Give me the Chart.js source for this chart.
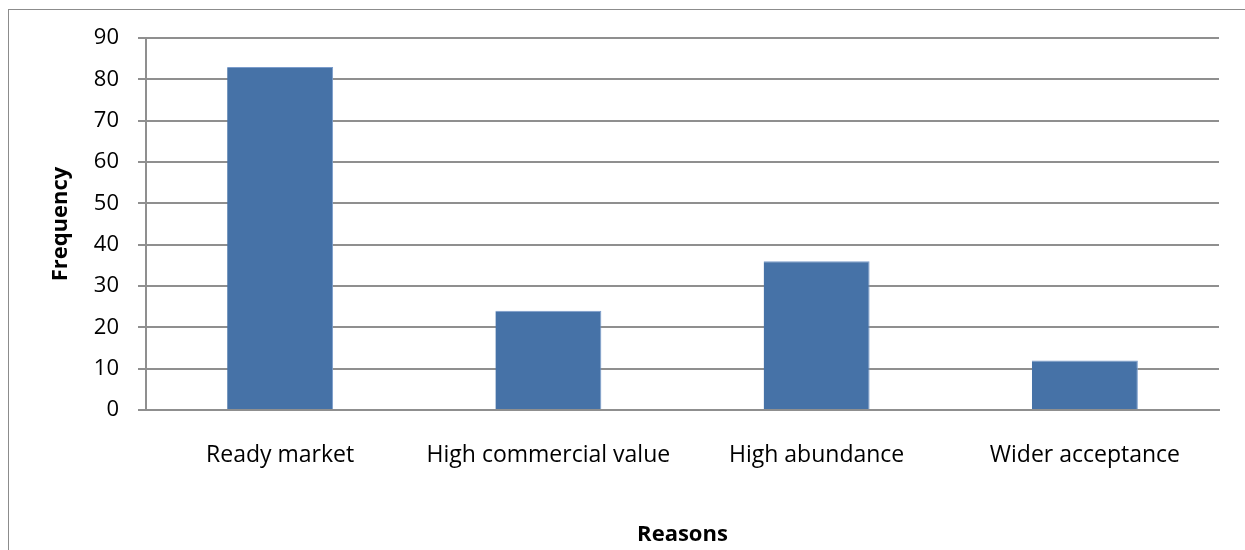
<!DOCTYPE html>
<html>
<head>
<meta charset="utf-8">
<script src="https://cdn.jsdelivr.net/npm/chart.js@4"></script>
<style>
  body { margin: 0; background: #fff; }
  #wrap { position: relative; width: 1245px; height: 550px; overflow: hidden; }
  #frame { position: absolute; left: 8px; top: 9px; width: 1300px; height: 600px; border: 1px solid #8c8c8c; box-sizing: border-box; }
  canvas { position: absolute; left: 0; top: 0; }
</style>
</head>
<body>
<div id="wrap">
  <div id="frame"></div>
  <canvas id="chart" width="1245" height="550"></canvas>
</div>
<script>
const reasons = ['Ready market', 'High commercial value', 'High abundance', 'Wider acceptance'];
const frequency = [83, 24, 36, 12];
const yTicks = [0, 10, 20, 30, 40, 50, 60, 70, 80, 90];

const font = "'Open Sans', 'Noto Sans', sans-serif";
const gray = '#8f8f8f';

new Chart(document.getElementById('chart').getContext('2d'), {
  type: 'bar',
  data: {
    labels: reasons,
    datasets: [{
      data: frequency,
      backgroundColor: '#4672a7',
      borderColor: '#7b9ccb',
      borderWidth: { left: 0, top: 1, right: 1, bottom: 0 },
      categoryPercentage: 1,
      barPercentage: 0.395
    }]
  },
  options: {
    responsive: false,
    animation: false,
    layout: { padding: { left: 50, top: 38, right: 26, bottom: 0 } },
    plugins: { legend: { display: false }, tooltip: { enabled: false } },
    scales: {
      x: {
        afterFit: s => { s.height = 140; },
        grid: { display: false },
        border: { color: gray, width: 2 },
        ticks: { color: '#000', padding: 24, maxRotation: 0, font: { family: font, size: 23 } },
        title: { display: true, text: 'Reasons', color: '#000', padding: { top: 0, bottom: 2 }, font: { family: font, size: 22, weight: 'bold' } }
      },
      y: {
        min: 0,
        max: 90,
        afterFit: s => { s.width = 96; },
        afterBuildTicks: s => { s.ticks = yTicks.map(v => ({ value: v })); },
        grid: { color: gray, lineWidth: 2, tickLength: 8 },
        border: { color: gray, width: 2 },
        ticks: { color: '#000', padding: 19, font: { family: font, size: 22 } },
        title: { display: true, text: 'Frequency', color: '#000', padding: { top: -2, bottom: 0 }, font: { family: font, size: 22, weight: 'bold' } }
      }
    }
  }
});
</script>
</body>
</html>
